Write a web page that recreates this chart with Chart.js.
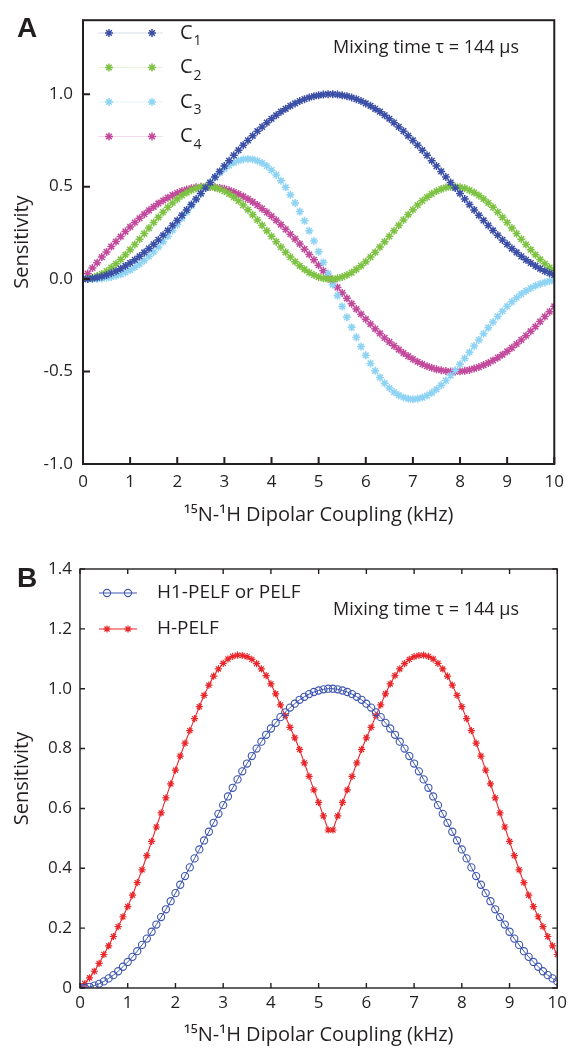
<!DOCTYPE html>
<html>
<head>
<meta charset="utf-8">
<script src="https://cdn.jsdelivr.net/npm/chart.js@4.4.1/dist/chart.umd.min.js"></script>
<style>
  body { margin: 0; background: #fff; }
  #wrap { position: relative; width: 572px; height: 1049px; font-family: "Open Sans", sans-serif; color: #231f20; }
  .panel { position: absolute; left: 0; width: 572px; }
  .tag { position: absolute; font-family: "Liberation Sans", Arial, sans-serif; font-weight: bold; font-size: 28px; line-height: 1; }
  .note { position: absolute; font-size: 18px; line-height: 1; white-space: nowrap; }
</style>
</head>
<body>
<div id="wrap">
  <div class="panel" style="top:0;height:540px"><canvas id="chartA"></canvas></div>
  <div class="panel" style="top:540px;height:509px"><canvas id="chartB"></canvas></div>
  <div class="tag" style="left:17px;top:14px">A</div>
  <div class="tag" style="left:17px;top:564px">B</div>
  <div class="note" style="left:333px;top:37px">Mixing time τ = 144 μs</div>
  <div class="note" style="left:333px;top:599px">Mixing time τ = 144 μs</div>
</div>
<script>
// dipolar coupling (kHz), 0.1 step
const kHz = [
  0, 0.1, 0.2, 0.3, 0.4, 0.5, 0.6, 0.7, 0.8, 0.9,
  1, 1.1, 1.2, 1.3, 1.4, 1.5, 1.6, 1.7, 1.8, 1.9,
  2, 2.1, 2.2, 2.3, 2.4, 2.5, 2.6, 2.7, 2.8, 2.9,
  3, 3.1, 3.2, 3.3, 3.4, 3.5, 3.6, 3.7, 3.8, 3.9,
  4, 4.1, 4.2, 4.3, 4.4, 4.5, 4.6, 4.7, 4.8, 4.9,
  5, 5.1, 5.2, 5.3, 5.4, 5.5, 5.6, 5.7, 5.8, 5.9,
  6, 6.1, 6.2, 6.3, 6.4, 6.5, 6.6, 6.7, 6.8, 6.9,
  7, 7.1, 7.2, 7.3, 7.4, 7.5, 7.6, 7.7, 7.8, 7.9,
  8, 8.1, 8.2, 8.3, 8.4, 8.5, 8.6, 8.7, 8.8, 8.9,
  9, 9.1, 9.2, 9.3, 9.4, 9.5, 9.6, 9.7, 9.8, 9.9,
  10
];

// panel A
const c1 = [
  0, 0.001, 0.004, 0.008, 0.014, 0.022, 0.032, 0.043, 0.056, 0.071,
  0.087, 0.104, 0.123, 0.144, 0.165, 0.188, 0.212, 0.237, 0.263, 0.290,
  0.317, 0.345, 0.374, 0.403, 0.433, 0.463, 0.493, 0.522, 0.552, 0.582,
  0.611, 0.640, 0.669, 0.697, 0.724, 0.750, 0.775, 0.800, 0.823, 0.846,
  0.867, 0.886, 0.905, 0.921, 0.937, 0.950, 0.963, 0.973, 0.982, 0.989,
  0.994, 0.998, 1.000, 1.000, 0.998, 0.994, 0.989, 0.982, 0.973, 0.963,
  0.950, 0.937, 0.921, 0.905, 0.886, 0.867, 0.846, 0.823, 0.800, 0.775,
  0.750, 0.724, 0.697, 0.669, 0.640, 0.611, 0.582, 0.552, 0.522, 0.493,
  0.463, 0.433, 0.403, 0.374, 0.345, 0.317, 0.290, 0.263, 0.237, 0.212,
  0.188, 0.165, 0.144, 0.123, 0.104, 0.087, 0.071, 0.056, 0.043, 0.032,
  0.022
];
const c2 = [
  0, 0.002, 0.007, 0.016, 0.028, 0.043, 0.062, 0.083, 0.106, 0.132,
  0.159, 0.187, 0.216, 0.246, 0.276, 0.306, 0.334, 0.362, 0.388, 0.412,
  0.433, 0.452, 0.468, 0.481, 0.491, 0.497, 0.500, 0.499, 0.495, 0.487,
  0.475, 0.461, 0.443, 0.423, 0.400, 0.375, 0.348, 0.320, 0.291, 0.261,
  0.231, 0.202, 0.173, 0.145, 0.119, 0.094, 0.072, 0.052, 0.035, 0.022,
  0.011, 0.004, 0.000, 0.000, 0.004, 0.011, 0.022, 0.035, 0.052, 0.072,
  0.094, 0.119, 0.145, 0.173, 0.202, 0.231, 0.261, 0.291, 0.320, 0.348,
  0.375, 0.400, 0.423, 0.443, 0.461, 0.475, 0.487, 0.495, 0.499, 0.500,
  0.497, 0.491, 0.481, 0.468, 0.452, 0.433, 0.412, 0.388, 0.362, 0.334,
  0.306, 0.276, 0.246, 0.216, 0.187, 0.159, 0.132, 0.106, 0.083, 0.062,
  0.043
];
const c3 = [
  0, 0.000, 0.000, 0.001, 0.003, 0.007, 0.011, 0.018, 0.026, 0.036,
  0.049, 0.064, 0.081, 0.101, 0.123, 0.147, 0.174, 0.202, 0.232, 0.263,
  0.295, 0.329, 0.362, 0.396, 0.429, 0.461, 0.493, 0.522, 0.549, 0.574,
  0.596, 0.615, 0.630, 0.641, 0.647, 0.650, 0.647, 0.640, 0.628, 0.611,
  0.589, 0.563, 0.532, 0.496, 0.456, 0.412, 0.365, 0.315, 0.261, 0.206,
  0.148, 0.090, 0.030, -0.030, -0.090, -0.148, -0.206, -0.261, -0.315, -0.365,
  -0.412, -0.456, -0.496, -0.532, -0.563, -0.589, -0.611, -0.628, -0.640, -0.647,
  -0.650, -0.647, -0.641, -0.630, -0.615, -0.596, -0.574, -0.549, -0.522, -0.493,
  -0.461, -0.429, -0.396, -0.362, -0.329, -0.295, -0.263, -0.232, -0.202, -0.174,
  -0.147, -0.123, -0.101, -0.081, -0.064, -0.049, -0.036, -0.026, -0.018, -0.011,
  -0.007
];
const c4 = [
  0, 0.030, 0.060, 0.089, 0.119, 0.147, 0.176, 0.203, 0.230, 0.257,
  0.282, 0.306, 0.329, 0.351, 0.372, 0.391, 0.409, 0.425, 0.440, 0.454,
  0.465, 0.476, 0.484, 0.491, 0.496, 0.499, 0.500, 0.500, 0.497, 0.493,
  0.488, 0.480, 0.471, 0.460, 0.447, 0.433, 0.417, 0.400, 0.381, 0.361,
  0.340, 0.318, 0.294, 0.269, 0.243, 0.217, 0.190, 0.162, 0.133, 0.104,
  0.075, 0.045, 0.015, -0.015, -0.045, -0.075, -0.104, -0.133, -0.162, -0.190,
  -0.217, -0.243, -0.269, -0.294, -0.318, -0.340, -0.361, -0.381, -0.400, -0.417,
  -0.433, -0.447, -0.460, -0.471, -0.480, -0.488, -0.493, -0.497, -0.500, -0.500,
  -0.499, -0.496, -0.491, -0.484, -0.476, -0.465, -0.454, -0.440, -0.425, -0.409,
  -0.391, -0.372, -0.351, -0.329, -0.306, -0.282, -0.257, -0.230, -0.203, -0.176,
  -0.147
];

// panel B
const pelf = c1;
const hPelf = [
  0.000, 0.015, 0.034, 0.056, 0.082, 0.112, 0.141, 0.172, 0.205, 0.238,
  0.272, 0.310, 0.352, 0.395, 0.442, 0.490, 0.538, 0.585, 0.635, 0.682,
  0.728, 0.775, 0.818, 0.860, 0.900, 0.940, 0.978, 1.012, 1.042, 1.066,
  1.085, 1.099, 1.108, 1.112, 1.111, 1.107, 1.098, 1.084, 1.066, 1.044,
  1.016, 0.983, 0.946, 0.910, 0.871, 0.836, 0.797, 0.752, 0.707, 0.662,
  0.620, 0.575, 0.528, 0.528, 0.575, 0.620, 0.662, 0.707, 0.752, 0.797,
  0.836, 0.871, 0.910, 0.946, 0.983, 1.016, 1.044, 1.066, 1.084, 1.098,
  1.107, 1.111, 1.112, 1.108, 1.099, 1.085, 1.066, 1.042, 1.012, 0.978,
  0.940, 0.900, 0.860, 0.818, 0.775, 0.728, 0.682, 0.635, 0.585, 0.538,
  0.490, 0.442, 0.395, 0.352, 0.310, 0.272, 0.238, 0.205, 0.172, 0.141,
  0.112
];

const xTicks = [0, 1, 2, 3, 4, 5, 6, 7, 8, 9, 10];
const yTicksA = [-1, -0.5, 0, 0.5, 1];
const yTicksB = [0, 0.2, 0.4, 0.6, 0.8, 1.0, 1.2, 1.4];
const xTitle = '\u00b9\u2075N-\u00b9H Dipolar Coupling (kHz)';

const ink = '#231f20';
const pts = arr => kHz.map((x, i) => ({ x: x, y: arr[i] }));

// box round the plot area, with inward tick marks
const frame = {
  id: 'frame',
  afterDraw(chart, args, o) {
    const { ctx, chartArea: a, scales: { x, y } } = chart;
    ctx.save();
    ctx.strokeStyle = ink;
    ctx.lineWidth = o.width;
    ctx.strokeRect(a.left, a.top, a.right - a.left, a.bottom - a.top);
    ctx.beginPath();
    x.ticks.forEach(t => {
      const px = x.getPixelForValue(t.value);
      ctx.moveTo(px, a.bottom); ctx.lineTo(px, a.bottom - o.len);
      if (o.mirror) { ctx.moveTo(px, a.top); ctx.lineTo(px, a.top + o.len); }
    });
    y.ticks.forEach(t => {
      const py = y.getPixelForValue(t.value);
      ctx.moveTo(a.left, py); ctx.lineTo(a.left + o.len, py);
      if (o.mirror) { ctx.moveTo(a.right, py); ctx.lineTo(a.right - o.len, py); }
    });
    ctx.stroke();
    ctx.restore();
  }
};

// legend inside the plot: line with two markers, then the label
const subDigits = '₀₁₂₃₄₅₆₇₈₉';
const keyBox = {
  id: 'keyBox',
  afterDraw(chart, args, o) {
    const ctx = chart.ctx;
    ctx.save();
    chart.data.datasets.forEach((ds, i) => {
      const y = o.y0 + i * o.dy;
      ctx.strokeStyle = ds.borderColor;
      ctx.lineWidth = ds.borderWidth;
      ctx.beginPath();
      ctx.moveTo(o.x0, y); ctx.lineTo(o.x1, y);
      ctx.stroke();
      ctx.strokeStyle = ds.pointBorderColor;
      ctx.fillStyle = ds.pointBackgroundColor;
      ctx.lineWidth = ds.pointBorderWidth;
      o.marks.forEach(mx => Chart.helpers.drawPoint(ctx, {
        pointStyle: ds.pointStyle, radius: ds.pointRadius, rotation: 0, borderWidth: ds.pointBorderWidth
      }, mx, y));
      const m = ds.label.match(/^(.*?)([₀-₉]*)$/);
      ctx.fillStyle = ink;
      ctx.textBaseline = 'middle';
      ctx.font = o.size + 'px "Open Sans"';
      ctx.fillText(m[1], o.textX, y);
      if (m[2]) {
        const w = ctx.measureText(m[1]).width;
        const sub = [...m[2]].map(c => subDigits.indexOf(c)).join('');
        ctx.font = Math.round(o.size * 0.72) + 'px "Open Sans"';
        ctx.fillText(sub, o.textX + w + 1, y + o.size * 0.42);
      }
    });
    ctx.restore();
  }
};

function axes(yMin, yMax, yTicks, fmt, sz) {
  return {
    x: {
      type: 'linear', min: 0, max: 10,
      afterBuildTicks: s => { s.ticks = xTicks.map(v => ({ value: v })); },
      ticks: { color: ink, font: { size: 17 }, padding: sz.xPad, maxRotation: 0 },
      grid: { display: false, drawTicks: false },
      border: { display: false },
      title: { display: true, text: xTitle, color: ink, font: { size: 20 }, padding: { top: 0, bottom: sz.titlePad } },
      afterFit: s => { s.height = sz.xH; }
    },
    y: {
      min: yMin, max: yMax,
      afterBuildTicks: s => { s.ticks = yTicks.map(v => ({ value: v })); },
      ticks: { color: ink, font: { size: 17 }, padding: sz.yPad, callback: fmt },
      grid: { display: false, drawTicks: false },
      border: { display: false },
      title: { display: true, text: 'Sensitivity', color: ink, font: { size: 20 }, padding: { top: 10, bottom: 0 } },
      afterFit: s => { s.width = sz.yW; }
    }
  };
}

function starSet(label, data, color, line) {
  return {
    label: label, data: pts(data),
    borderColor: line, borderWidth: 1,
    pointStyle: 'star', pointRadius: 4, pointBorderWidth: 1.5,
    pointBorderColor: color, pointBackgroundColor: color
  };
}

Chart.defaults.font.family = '"Open Sans", sans-serif';
Chart.defaults.color = ink;

new Chart(document.getElementById('chartA'), {
  type: 'line',
  data: {
    datasets: [
      starSet('C₁', c1, '#3c4fa6', 'rgba(60,79,166,0.2)'),
      starSet('C₂', c2, '#7dc242', 'rgba(125,194,66,0.2)'),
      starSet('C₃', c3, '#8ed3f3', 'rgba(142,211,243,0.25)'),
      starSet('C₄', c4, '#c2499b', 'rgba(194,73,155,0.2)')
    ]
  },
  options: {
    responsive: true, maintainAspectRatio: false, animation: false,
    layout: { padding: { top: 15, right: 13, left: 0, bottom: 0 } },
    plugins: {
      legend: { display: false }, tooltip: { enabled: false },
      frame: { width: 2, len: 7, mirror: false },
      keyBox: { x0: 98, x1: 163, marks: [109, 152], y0: 33, dy: 34.5, textX: 180, size: 20 }
    },
    scales: axes(-1, 1.4, yTicksA, v => v.toFixed(1), { xPad: 8, xH: 76, titlePad: 13, yPad: 10, yW: 83 })
  },
  plugins: [frame, keyBox]
});

new Chart(document.getElementById('chartB'), {
  type: 'line',
  data: {
    datasets: [
      {
        label: 'H1-PELF or PELF', data: pts(pelf),
        borderColor: '#3d55b0', borderWidth: 1,
        pointStyle: 'circle', pointRadius: 3.6, pointBorderWidth: 1.1,
        pointBorderColor: '#3d55b0', pointBackgroundColor: 'rgba(255,255,255,0)'
      },
      {
        label: 'H-PELF', data: pts(hPelf),
        borderColor: '#e9262a', borderWidth: 1.1,
        pointStyle: 'star', pointRadius: 3.6, pointBorderWidth: 1.2,
        pointBorderColor: '#e9262a', pointBackgroundColor: '#e9262a'
      }
    ]
  },
  options: {
    responsive: true, maintainAspectRatio: false, animation: false,
    layout: { padding: { top: 29, right: 11, left: 0, bottom: 0 } },
    plugins: {
      legend: { display: false }, tooltip: { enabled: false },
      frame: { width: 1.4, len: 5, mirror: true },
      keyBox: { x0: 99, x1: 137, marks: [107, 128], y0: 53, dy: 36, textX: 157, size: 19 }
    },
    scales: axes(0, 1.4, yTicksB, v => (v === 0 ? '0' : v.toFixed(1)), { xPad: 5, xH: 61, titlePad: 2, yPad: 8, yW: 80 })
  },
  plugins: [frame, keyBox]
});
</script>
</body>
</html>
